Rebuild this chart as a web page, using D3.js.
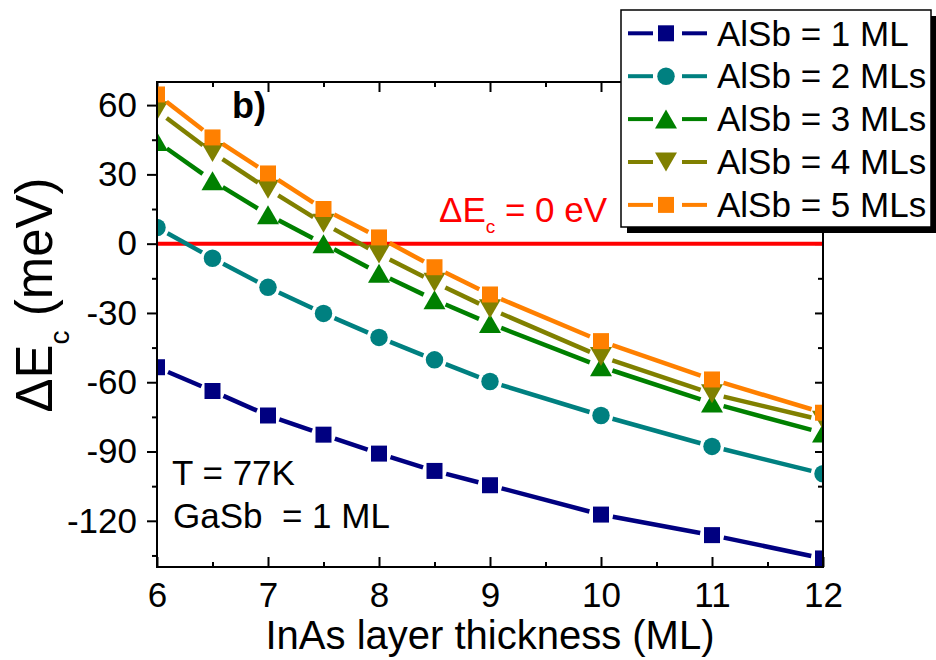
<!DOCTYPE html>
<html lang="en">
<head>
<meta charset="UTF-8">
<title>Conduction band offset vs InAs layer thickness</title>
<script src="https://d3js.org/d3.v7.min.js"></script>
<style>
  body { margin: 0; background: #fff; }
  svg { font-family: "Liberation Sans", Arial, sans-serif; }
  .axis text { font-family: "Liberation Sans", Arial, sans-serif; font-size: 35px; fill: #000; }
  .axis line { stroke: #000; stroke-width: 2px; }
  .axis path.domain { display: none; }
</style>
</head>
<body>
<svg width="936" height="660"></svg>
<script>
// InAs thickness (ML) and conduction band offset (meV) for each AlSb thickness
const thickness = [6, 6.5, 7, 7.5, 8, 8.5, 9, 10, 11, 12];
const alsb1 = [-53.5, -63.8, -74.4, -82.7, -90.9, -98.4, -104.6, -117.3, -126.2, -136.3];
const alsb2 = [7.0, -6.3, -18.9, -30.2, -40.6, -50.3, -59.7, -74.4, -87.8, -99.6];
const alsb3 = [44.2, 27.2, 12.5, 0, -12.8, -24.3, -34.6, -53.3, -69, -82];
const alsb4 = [57.5, 39.5, 23.6, 8.8, -4.5, -16.7, -28.2, -48.9, -65, -76.5];
const alsb5 = [64.6, 46, 30.4, 15, 2.7, -10.2, -22, -42.2, -58.8, -73.2];

const seriesNames = ["AlSb = 1 ML", "AlSb = 2 MLs", "AlSb = 3 MLs", "AlSb = 4 MLs", "AlSb = 5 MLs"];
const seriesColors = ["#000080", "#008080", "#008000", "#808000", "#ff8000"];
const seriesSymbols = ["square", "circle", "triangle", "triangleDown", "square"];

const xTicks = [6, 7, 8, 9, 10, 11, 12];
const xMinor = [6.5, 7.5, 8.5, 9.5, 10.5, 11.5];
const yTicks = [-120, -90, -60, -30, 0, 30, 60];
const yMinor = [-135, -105, -75, -45, -15, 15, 45];

const series = [alsb1, alsb2, alsb3, alsb4, alsb5].map((v, i) => ({
    name: seriesNames[i], values: v, color: seriesColors[i], symbol: seriesSymbols[i]
}));

const plotLeft = 157, plotRight = 823, plotTop = 82, plotBottom = 567;

const svg = d3.select("svg");

const x = d3.scaleLinear().domain([6, 12]).range([plotLeft, plotRight]);
const y = d3.scaleLinear().domain([-140, 70]).range([plotBottom, plotTop]);

// marker shapes
function symbolPath(kind) {
    if (kind === "square") return d3.symbol(d3.symbolSquare, 256)();
    if (kind === "circle") return d3.symbol(d3.symbolCircle, 240)();
    if (kind === "triangle") return "M0,-9.5L11,9.5L-11,9.5Z";
    return "M0,9.5L11,-9.5L-11,-9.5Z";
}

svg.append("defs").append("clipPath").attr("id", "plot-clip")
   .append("rect")
   .attr("x", plotLeft).attr("y", plotTop)
   .attr("width", plotRight - plotLeft).attr("height", plotBottom - plotTop);

// axes: ticks out on the left, in on the other sides
svg.append("g").attr("class", "axis")
   .attr("transform", `translate(0,${plotBottom})`)
   .call(d3.axisBottom(x).tickValues(xTicks).tickSize(-10).tickPadding(15).tickFormat(d => String(d)));
svg.append("g").attr("class", "axis")
   .attr("transform", `translate(0,${plotBottom})`)
   .call(d3.axisBottom(x).tickValues(xMinor).tickSize(-5).tickFormat(""));
svg.append("g").attr("class", "axis")
   .attr("transform", `translate(0,${plotTop})`)
   .call(d3.axisTop(x).tickValues(xTicks).tickSize(-10).tickFormat(""));
svg.append("g").attr("class", "axis")
   .attr("transform", `translate(0,${plotTop})`)
   .call(d3.axisTop(x).tickValues(xMinor).tickSize(-5).tickFormat(""));
svg.append("g").attr("class", "axis")
   .attr("transform", `translate(${plotLeft},0)`)
   .call(d3.axisLeft(y).tickValues(yTicks).tickSize(10).tickPadding(10).tickFormat(d => String(d)));
svg.append("g").attr("class", "axis")
   .attr("transform", `translate(${plotLeft},0)`)
   .call(d3.axisLeft(y).tickValues(yMinor).tickSize(5).tickFormat(""));
svg.append("g").attr("class", "axis")
   .attr("transform", `translate(${plotRight},0)`)
   .call(d3.axisRight(y).tickValues(yTicks).tickSize(-8).tickFormat(""));
svg.append("g").attr("class", "axis")
   .attr("transform", `translate(${plotRight},0)`)
   .call(d3.axisRight(y).tickValues(yMinor).tickSize(-5).tickFormat(""));

const plot = svg.append("g").attr("clip-path", "url(#plot-clip)");

// zero offset reference line
plot.append("line")
    .attr("x1", x(6)).attr("x2", x(12))
    .attr("y1", y(0)).attr("y2", y(0))
    .attr("stroke", "#ff0000").attr("stroke-width", 4);

const gap = 12;
series.forEach(s => {
    const pts = thickness.map((t, i) => [x(t), y(s.values[i])]);
    // line pieces stop short of each marker
    const segs = d3.pairs(pts).map(([a, b]) => {
        const dx = b[0] - a[0], dy = b[1] - a[1], L = Math.hypot(dx, dy);
        const ux = dx / L, uy = dy / L;
        return [a[0] + ux * gap, a[1] + uy * gap, b[0] - ux * gap, b[1] - uy * gap];
    });
    plot.append("g").selectAll("line").data(segs).join("line")
        .attr("x1", d => d[0]).attr("y1", d => d[1])
        .attr("x2", d => d[2]).attr("y2", d => d[3])
        .attr("stroke", s.color).attr("stroke-width", 4.5);
    plot.append("g").selectAll("path").data(pts).join("path")
        .attr("d", symbolPath(s.symbol))
        .attr("transform", d => `translate(${d[0]},${d[1]})`)
        .attr("fill", s.color);
});

// frame
svg.append("rect")
   .attr("x", plotLeft).attr("y", plotTop)
   .attr("width", plotRight - plotLeft).attr("height", plotBottom - plotTop)
   .attr("fill", "none").attr("stroke", "#000").attr("stroke-width", 2);

// annotations
svg.append("text").attr("x", 232).attr("y", 118)
   .attr("font-size", 36).attr("font-weight", "bold").text("b)");

const zeroLabel = svg.append("text").attr("x", 439).attr("y", 222)
   .attr("font-size", 35).attr("fill", "#ff0000");
zeroLabel.append("tspan").text("ΔE");
zeroLabel.append("tspan").attr("font-size", 19).attr("dy", 11).text("c");
zeroLabel.append("tspan").attr("dy", -11).text(" = 0 eV");

svg.append("text").attr("x", 172).attr("y", 485)
   .attr("font-size", 35).text("T = 77K");
svg.append("text").attr("x", 173).attr("y", 528)
   .attr("font-size", 35).style("white-space", "pre").text("GaSb  = 1 ML");

// axis titles
svg.append("text")
   .attr("x", (plotLeft + plotRight) / 2).attr("y", 649)
   .attr("text-anchor", "middle").attr("font-size", 40)
   .text("InAs layer thickness (ML)");

const yTitle = svg.append("text")
   .attr("transform", "translate(52,295) rotate(-90)")
   .attr("text-anchor", "middle").attr("font-size", 51);
yTitle.append("tspan").text("ΔE");
yTitle.append("tspan").attr("font-size", 28).attr("dy", 17).text("c");
yTitle.append("tspan").attr("dy", -17).text(" (meV)");

// legend with shadow
const lx = 621, ly = 10, lw = 310, lh = 217;
const legend = svg.append("g");
legend.append("rect").attr("x", lx + 6).attr("y", ly + 6)
      .attr("width", lw).attr("height", lh).attr("fill", "#000");
legend.append("rect").attr("x", lx).attr("y", ly)
      .attr("width", lw).attr("height", lh)
      .attr("fill", "#fff").attr("stroke", "#000").attr("stroke-width", 1.5);

const rows = legend.selectAll("g.row").data(series).join("g")
      .attr("class", "row")
      .attr("transform", (d, i) => `translate(0,${33.3 + i * 42.9})`);
rows.append("line").attr("x1", 628).attr("x2", 653)
    .attr("stroke", d => d.color).attr("stroke-width", 4);
rows.append("line").attr("x1", 682).attr("x2", 707)
    .attr("stroke", d => d.color).attr("stroke-width", 4);
rows.append("path").attr("d", d => symbolPath(d.symbol))
    .attr("transform", "translate(666,0)")
    .attr("fill", d => d.color);
rows.append("text").attr("x", 717).attr("dy", "0.35em")
    .attr("font-size", 35).text(d => d.name);
</script>
</body>
</html>
